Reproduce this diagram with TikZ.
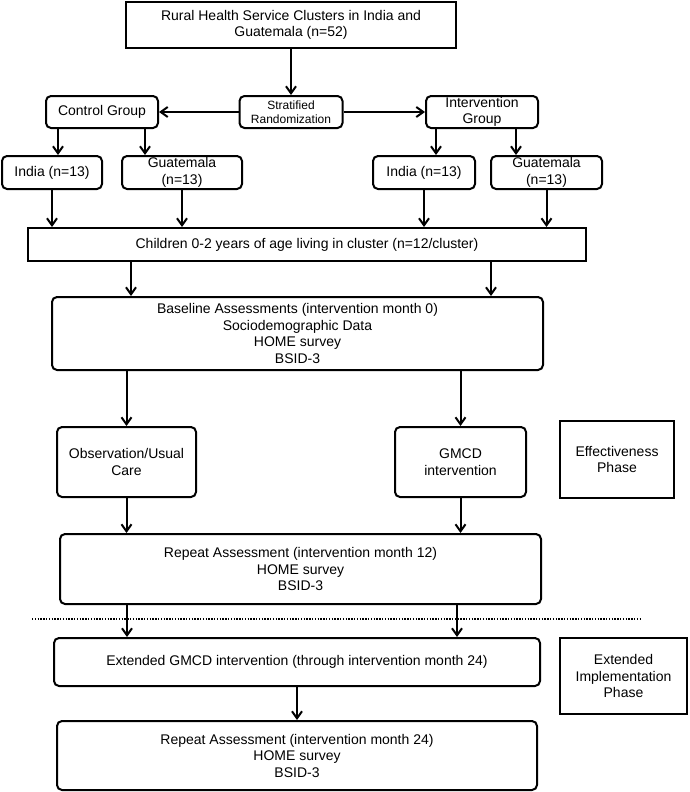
\documentclass[tikz,border=0pt]{standalone}
\usepackage{fontspec}
\setmainfont{Liberation Sans}
\usepackage{tikz}
\usetikzlibrary{arrows.meta}

\begin{document}
\begin{tikzpicture}[x=1pt, y=-1pt,
    scatola/.style = {draw, line width=2pt, align=center, inner sep=0pt, font=\fontsize{14}{16.5}\selectfont},
    tondo/.style = {scatola, rounded corners=5pt},
    freccia/.style = {line width=2pt, -{Straight Barb[length=7pt, width=10pt]}}]
    \useasboundingbox (0,0) rectangle (689,792);
    % Cluster e randomizzazione
    \node[scatola, minimum width=330, minimum height=46] (cluster) at (291,25) {Rural Health Service Clusters in India and\\Guatemala (n=52)};
    \node[tondo, minimum width=103, minimum height=32, font=\fontsize{12}{14}\selectfont] (strat) at (291,112) {Stratified\\Randomization};
    \node[tondo, minimum width=112, minimum height=32] (ctrl) at (102,112) {Control Group};
    \node[tondo, minimum width=112, minimum height=32] (intv) at (482,112) {Intervention\\Group};
    % Paesi
    \node[tondo, minimum width=100, minimum height=33] (indC) at (52,172.5) {India (n=13)};
    \node[tondo, minimum width=120, minimum height=33] (guaC) at (182,172.5) {Guatemala\\(n=13)};
    \node[tondo, minimum width=102, minimum height=33] (indI) at (424,172.5) {India (n=13)};
    \node[tondo, minimum width=111, minimum height=33] (guaI) at (546.5,172.5) {Guatemala\\(n=13)};
    % Bambini e valutazioni
    \node[scatola, minimum width=558, minimum height=33] (child) at (307,244.5) {Children 0-2 years of age living in cluster (n=12/cluster)};
    \node[tondo, minimum width=491, minimum height=73] (base) at (297.5,333.5) {Baseline Assessments (intervention month 0)\\Sociodemographic Data\\HOME survey\\BSID-3};
    \node[tondo, minimum width=139, minimum height=70] (obs) at (126.5,462) {Observation/Usual\\Care};
    \node[tondo, minimum width=131, minimum height=70] (gmcd) at (460.5,462) {GMCD\\intervention};
    \node[scatola, minimum width=114, minimum height=77] (eff) at (617,459.5) {Effectiveness\\Phase};
    \node[tondo, minimum width=481, minimum height=70] (rep12) at (300.5,569) {Repeat Assessment (intervention month 12)\\HOME survey\\BSID-3};
    % Fase estesa
    \node[tondo, minimum width=486, minimum height=48] (ext) at (297,662) {Extended GMCD intervention (through intervention month 24)};
    \node[scatola, minimum width=127, minimum height=76] (extph) at (623.5,676) {Extended\\Implementation\\Phase};
    \node[tondo, minimum width=480, minimum height=69] (rep24) at (297,755.5) {Repeat Assessment (intervention month 24)\\HOME survey\\BSID-3};
    % Linea tratteggiata
    \coordinate (sep1) at (32,619);
    \coordinate (sep2) at (641,619);
    \draw[line width=2pt, dash pattern=on 1.4pt off 1.4pt] (sep1) -- (sep2);
    % Frecce
    \draw[freccia] (cluster.south) -- (strat.north);
    \draw[freccia] (strat.west) -- (ctrl.east);
    \draw[freccia] (strat.east) -- (intv.west);
    \draw[freccia] ([xshift=13]ctrl.south west) -- ([xshift=13]ctrl.south west |- indC.north);
    \draw[freccia] ([xshift=-14]ctrl.south east) -- ([xshift=-14]ctrl.south east |- guaC.north);
    \draw[freccia] ([xshift=11]intv.south west) -- ([xshift=11]intv.south west |- indI.north);
    \draw[freccia] ([xshift=-23]intv.south east) -- ([xshift=-23]intv.south east |- guaI.north);
    \draw[freccia] (indC.south) -- (indC.south |- child.north);
    \draw[freccia] (guaC.south) -- (guaC.south |- child.north);
    \draw[freccia] (indI.south) -- (indI.south |- child.north);
    \draw[freccia] (guaI.south) -- (guaI.south |- child.north);
    \draw[freccia] ([xshift=80]base.north west |- child.south) -- ([xshift=80]base.north west);
    \draw[freccia] ([xshift=-53]base.north east |- child.south) -- ([xshift=-53]base.north east);
    \draw[freccia] (obs.north |- base.south) -- (obs.north);
    \draw[freccia] (gmcd.north |- base.south) -- (gmcd.north);
    \draw[freccia] (obs.south) -- (obs.south |- rep12.north);
    \draw[freccia] (gmcd.south) -- (gmcd.south |- rep12.north);
    \draw[freccia] ([xshift=68]rep12.south west) -- ([xshift=68]rep12.south west |- ext.north);
    \draw[freccia] ([xshift=-85]rep12.south east) -- ([xshift=-85]rep12.south east |- ext.north);
    \draw[freccia] (ext.south) -- (ext.south |- rep24.north);
\end{tikzpicture}
\end{document}
